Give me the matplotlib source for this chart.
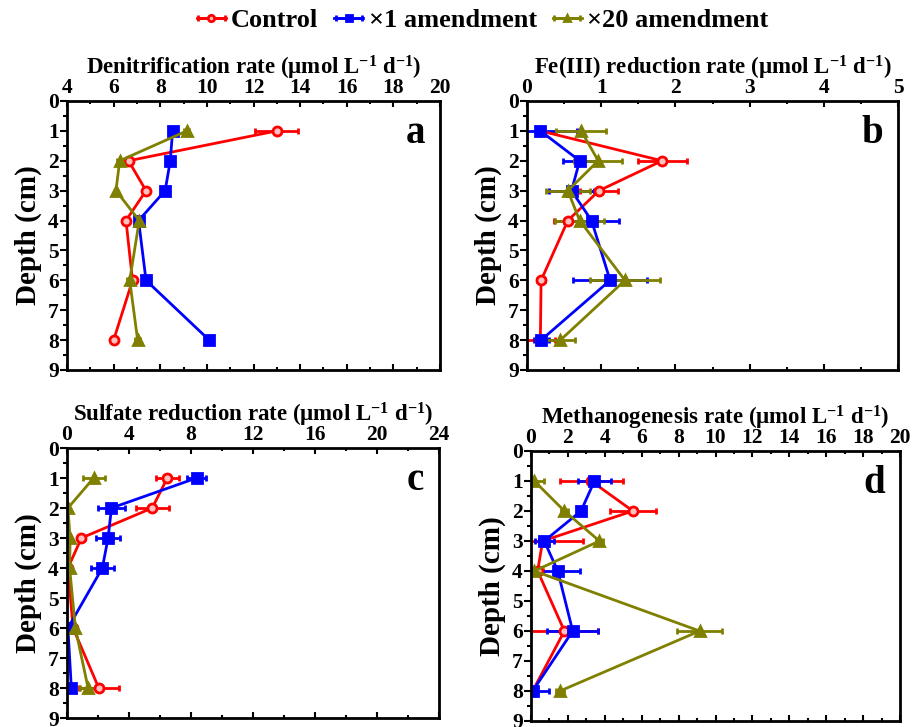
import numpy as np
import matplotlib
matplotlib.use("Agg")
import matplotlib.pyplot as plt
from matplotlib.ticker import MultipleLocator

plt.rcParams['font.family'] = ['Liberation Serif', 'DejaVu Serif']
plt.rcParams['font.weight'] = 'bold'
plt.rcParams['mathtext.fontset'] = 'custom'
plt.rcParams['mathtext.rm'] = 'Liberation Serif:bold'
plt.rcParams['mathtext.default'] = 'rm'

depth = [1, 2, 3, 4, 6, 8]
series_names = ["Control", "×1 amendment", "×20 amendment"]

# a: denitrification
den_ctrl = [13.0, 6.64, 7.39, 6.53, 6.81, 6.0]
den_ctrl_err = [0.93, 0.15, 0.1, 0.1, 0.1, 0.1]
den_x1 = [8.53, 8.43, 8.21, 7.07, 7.39, 10.1]
den_x1_err = [0.15, 0.05, 0.15, 0.05, 0.05, 0.05]
den_x20 = [9.14, 6.26, 6.1, 7.1, 6.69, 7.03]
den_x20_err = [0.1, 0.1, 0.05, 0.15, 0.1, 0.1]

# b: Fe(III) reduction
fe_ctrl = [0.18, 1.82, 0.97, 0.55, 0.19, 0.18]
fe_ctrl_err = [0.05, 0.33, 0.25, 0.18, 0.05, 0.2]
fe_x1 = [0.18, 0.71, 0.6, 0.87, 1.12, 0.19]
fe_x1_err = [0.5, 0.23, 0.3, 0.37, 0.5, 0.1]
fe_x20 = [0.73, 0.96, 0.55, 0.71, 1.32, 0.45]
fe_x20_err = [0.34, 0.32, 0.3, 0.33, 0.47, 0.2]

# c: sulfate reduction
sr_ctrl = [6.47, 5.5, 0.93, 0.06, 0.39, 2.05]
sr_ctrl_err = [0.75, 1.08, 0.2, 0.05, 0.1, 1.3]
sr_x1 = [8.36, 2.87, 2.65, 2.28, 0.06, 0.28]
sr_x1_err = [0.6, 0.9, 0.8, 0.75, 0.05, 0.05]
sr_x20 = [1.72, 0.06, 0.2, 0.17, 0.54, 1.36]
sr_x20_err = [0.7, 0.05, 0.05, 0.05, 0.1, 0.5]

# d: methanogenesis
me_ctrl = [3.26, 5.52, 0.63, 0.36, 1.81, 0.09]
me_ctrl_err = [1.7, 1.25, 2.2, 0.3, 1.8, 0.1]
me_x1 = [3.44, 2.71, 0.72, 1.45, 2.26, 0.09]
me_x1_err = [0.9, 0.1, 0.5, 1.2, 1.37, 0.9]
me_x20 = [0.18, 1.81, 3.71, 0.18, 9.14, 1.57]
me_x20_err = [0.5, 0.2, 0.2, 0.2, 1.2, 0.2]

colors = ['#ff0000', '#0000ff', '#808000']
markers = ['o', 's', '^']
faces = ['#ffc0c0', '#0000ff', '#808000']

panels = [
    ("a", "Denitrification rate (μmol L$^{-1}$ d$^{-1}$)", (4, 20), 2, 1,
     [(den_ctrl, den_ctrl_err), (den_x1, den_x1_err), (den_x20, den_x20_err)]),
    ("b", "Fe(III) reduction rate (μmol L$^{-1}$ d$^{-1}$)", (0, 5), 1, 0.5,
     [(fe_ctrl, fe_ctrl_err), (fe_x1, fe_x1_err), (fe_x20, fe_x20_err)]),
    ("c", "Sulfate reduction rate (μmol L$^{-1}$ d$^{-1}$)", (0, 24), 4, 2,
     [(sr_ctrl, sr_ctrl_err), (sr_x1, sr_x1_err), (sr_x20, sr_x20_err)]),
    ("d", "Methanogenesis rate (μmol L$^{-1}$ d$^{-1}$)", (0, 20), 2, 1,
     [(me_ctrl, me_ctrl_err), (me_x1, me_x1_err), (me_x20, me_x20_err)]),
]

W, H = 919, 727
boxes = [(67, 101, 440, 370), (527, 101, 898, 370),
         (67, 448, 439, 718), (531, 451, 900, 721)]

fig = plt.figure(figsize=(W / 100, H / 100), dpi=100)
handles = []
for (letter, title, xlim, major, minor, data), (x0, y0, x1, y1) in zip(panels, boxes):
    ax = fig.add_axes([x0 / W, 1 - y1 / H, (x1 - x0) / W, (y1 - y0) / H])
    for k, (vals, errs) in enumerate(data):
        h = ax.errorbar(vals, depth, xerr=errs, color=colors[k], lw=2,
                        marker=markers[k], ms=6.5, mfc=faces[k], mec=colors[k], mew=2,
                        elinewidth=2, capsize=2.5, capthick=2, label=series_names[k])
        if letter == "a":
            handles.append(h)
    ax.set_xlim(*xlim)
    ax.set_ylim(9, 0)
    ax.xaxis.tick_top()
    ax.xaxis.set_label_position('top')
    ax.xaxis.set_major_locator(MultipleLocator(major))
    ax.xaxis.set_minor_locator(MultipleLocator(minor))
    ax.yaxis.set_major_locator(MultipleLocator(1))
    ax.yaxis.set_minor_locator(MultipleLocator(0.5))
    ax.tick_params(axis='x', which='both', direction='in', top=True, bottom=True,
                   labelsize=15.5, pad=2)
    ax.tick_params(axis='x', which='major', length=4, width=1.5)
    ax.tick_params(axis='x', which='minor', length=2, width=1.5)
    ax.tick_params(axis='y', which='both', direction='out', labelsize=15.5, pad=1)
    ax.tick_params(axis='y', which='major', length=5, width=1.5)
    ax.tick_params(axis='y', which='minor', length=3, width=1.5)
    for s in ax.spines.values():
        s.set_linewidth(2)
    ax.set_xlabel(title, fontsize=16.5, fontweight='bold', labelpad=3)
    ax.set_ylabel("Depth (cm)", fontsize=21, fontweight='bold', labelpad=4)
    ax.text(0.96, 0.88, letter, transform=ax.transAxes, ha='right', va='center',
            fontsize=28, fontweight='bold')

fig.legend(handles, series_names, loc='center', bbox_to_anchor=(0.525, 0.972),
           ncol=3, frameon=False, fontsize=19, handlelength=1.1, markerscale=0.7,
           handletextpad=0.2, columnspacing=0.6)
fig.savefig("out.png", dpi=100)
